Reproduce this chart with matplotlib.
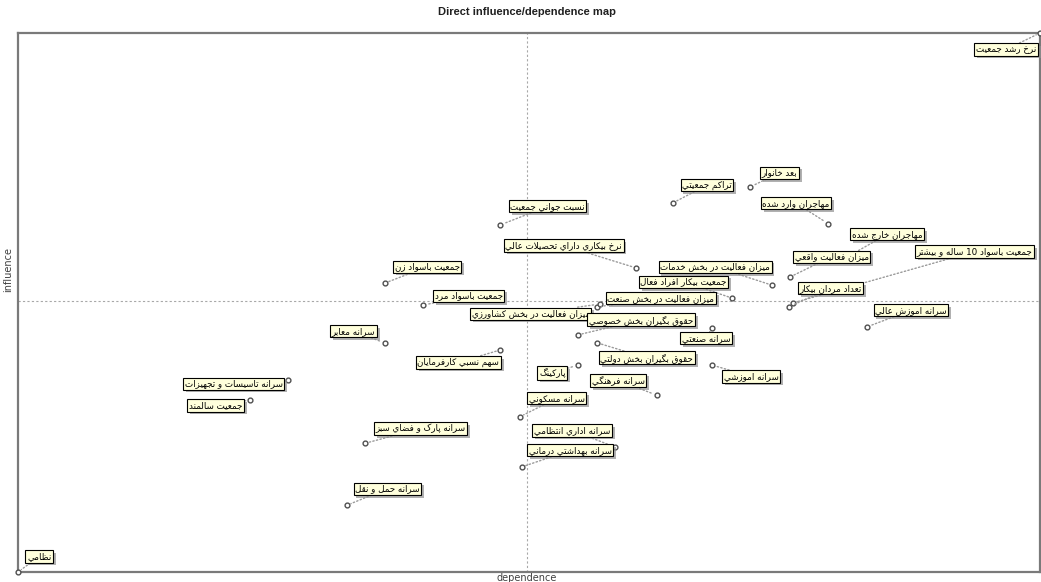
import re
import numpy as np
import matplotlib
matplotlib.use('Agg')
import matplotlib.pyplot as plt
import matplotlib.patheffects as pe

# ---- Arabic/Persian shaping (matplotlib does not shape RTL text) ----
FORMS = {
    'ا': ('\uFE8D', '\uFE8E'), 'آ': ('\uFE81', '\uFE82'),
    'ب': ('\uFE8F', '\uFE90', '\uFE91', '\uFE92'),
    'ت': ('\uFE95', '\uFE96', '\uFE97', '\uFE98'),
    'ث': ('\uFE99', '\uFE9A', '\uFE9B', '\uFE9C'),
    'ج': ('\uFE9D', '\uFE9E', '\uFE9F', '\uFEA0'),
    'ح': ('\uFEA1', '\uFEA2', '\uFEA3', '\uFEA4'),
    'خ': ('\uFEA5', '\uFEA6', '\uFEA7', '\uFEA8'),
    'د': ('\uFEA9', '\uFEAA'), 'ذ': ('\uFEAB', '\uFEAC'),
    'ر': ('\uFEAD', '\uFEAE'), 'ز': ('\uFEAF', '\uFEB0'),
    'س': ('\uFEB1', '\uFEB2', '\uFEB3', '\uFEB4'),
    'ش': ('\uFEB5', '\uFEB6', '\uFEB7', '\uFEB8'),
    'ص': ('\uFEB9', '\uFEBA', '\uFEBB', '\uFEBC'),
    'ض': ('\uFEBD', '\uFEBE', '\uFEBF', '\uFEC0'),
    'ط': ('\uFEC1', '\uFEC2', '\uFEC3', '\uFEC4'),
    'ظ': ('\uFEC5', '\uFEC6', '\uFEC7', '\uFEC8'),
    'ع': ('\uFEC9', '\uFECA', '\uFECB', '\uFECC'),
    'غ': ('\uFECD', '\uFECE', '\uFECF', '\uFED0'),
    'ف': ('\uFED1', '\uFED2', '\uFED3', '\uFED4'),
    'ق': ('\uFED5', '\uFED6', '\uFED7', '\uFED8'),
    'ك': ('\uFED9', '\uFEDA', '\uFEDB', '\uFEDC'),
    'ل': ('\uFEDD', '\uFEDE', '\uFEDF', '\uFEE0'),
    'م': ('\uFEE1', '\uFEE2', '\uFEE3', '\uFEE4'),
    'ن': ('\uFEE5', '\uFEE6', '\uFEE7', '\uFEE8'),
    'ه': ('\uFEE9', '\uFEEA', '\uFEEB', '\uFEEC'),
    'و': ('\uFEED', '\uFEEE'),
    'ي': ('\uFEF1', '\uFEF2', '\uFEF3', '\uFEF4'),
    'پ': ('\uFB56', '\uFB57', '\uFB58', '\uFB59'),
    'چ': ('\uFB7A', '\uFB7B', '\uFB7C', '\uFB7D'),
    'ژ': ('\uFB8A', '\uFB8B'),
    'ک': ('\uFB8E', '\uFB8F', '\uFB90', '\uFB91'),
    'گ': ('\uFB92', '\uFB93', '\uFB94', '\uFB95'),
}
LAMALEF = {'ا': ('\uFEFB', '\uFEFC'), 'آ': ('\uFEF5', '\uFEF6')}


def dual(c):
    return c in FORMS and len(FORMS[c]) == 4


def shape(s):
    res = []
    i, n = 0, len(s)
    while i < n:
        c = s[i]
        if c not in FORMS:
            res.append(c)
            i += 1
            continue
        link_prev = i > 0 and dual(s[i - 1])
        if c == 'ل' and i + 1 < n and s[i + 1] in LAMALEF:
            lig = LAMALEF[s[i + 1]]
            res.append(lig[1] if link_prev else lig[0])
            i += 2
            continue
        link_next = dual(c) and i + 1 < n and s[i + 1] in FORMS
        f = FORMS[c]
        if link_prev and link_next:
            res.append(f[3])
        elif link_prev:
            res.append(f[1])
        elif link_next:
            res.append(f[2])
        else:
            res.append(f[0])
        i += 1
    vis = ''.join(res)[::-1]
    return re.sub(r'[0-9]+', lambda m: m.group(0)[::-1], vis)


# ---- data ----
variables = [
    'نرخ رشد جمعيت', 'بعد خانوار', 'تراکم جمعيتي', 'مهاجران وارد شده',
    'نسبت جواني جمعيت', 'نرخ بيکاري داراي تحصيلات عالي', 'مهاجران خارج شده',
    'ميزان فعاليت واقعي', 'جمعيت باسواد 10 ساله و بيشتر', 'تعداد مردان بيکار',
    'سرانه اموزش عالي', 'ميزان فعاليت در بخش خدمات', 'جمعيت بيکار افراد فعال',
    'ميزان فعاليت در بخش صنعت', 'ميزان فعاليت در بخش کشاورزي',
    'حقوق بگيران بخش خصوصي', 'سرانه صنعتي', 'جمعيت باسواد زن',
    'جمعيت باسواد مرد', 'سرانه معابر', 'سهم نسبي کارفرمايان',
    'سرانه تاسيسات و تجهيزات', 'جمعيت سالمند', 'حقوق بگيران بخش دولتي',
    'پارکينگ', 'سرانه فرهنگي', 'سرانه اموزشي', 'سرانه مسکوني',
    'سرانه اداري انتظامي', 'سرانه بهداشتي درماني', 'سرانه پارک و فضاي سبز',
    'سرانه حمل و نقل', 'نظامي',
]
dependence = [100.0, 71.6, 64.1, 79.3, 47.2, 60.5, 81.0, 75.5, 75.8, 75.4,
              83.1, 73.8, 69.9, 56.7, 56.9, 54.8, 67.9, 35.9, 39.6, 35.9,
              47.2, 26.4, 22.7, 56.7, 54.8, 62.5, 67.9, 49.1, 58.4, 49.3,
              34.0, 32.2, 0.0]
influence = [100.0, 71.4, 68.5, 64.6, 64.4, 56.4, 58.3, 54.7, 49.9, 49.2,
             45.5, 53.2, 50.8, 49.2, 49.7, 44.0, 45.3, 53.6, 49.5, 42.5,
             41.2, 35.6, 31.9, 42.5, 38.4, 32.8, 38.4, 28.8, 23.2, 19.5,
             23.9, 12.4, 0.0]
dep_mean = 49.8
inf_mean = 50.3

# label offsets (pixels) from each point
offsets = [(-64, -21), (12, 10), (9, 13), (-66, 16), (10, 14), (-131, 18),
           (6, 19), (5, 16), (124, 47), (11, 14), (8, 12), (-112, 14),
           (-92, 12), (10, 4), (-128, -14), (11, 10), (-30, -15), (10, 12),
           (12, 5), (-53, 7), (-83, -17), (-103, -8), (-61, -10), (3, -20),
           (-39, -13), (-65, 10), (12, -16), (9, 14), (-81, 12), (7, 12),
           (10, 10), (8, 12), (9, 11)]

W, H = 1041, 582
fig = plt.figure(figsize=(W / 100, H / 100), dpi=100)
ax = fig.add_axes([18 / W, 1 - 572 / H, (1040 - 18) / W, (572 - 33) / H])
ax.set_xlim(0, 100)
ax.set_ylim(0, 100)
ax.set_xticks([])
ax.set_yticks([])
for s in ax.spines.values():
    s.set_color('#7a7a7a')
    s.set_linewidth(1.6)

ax.axvline(dep_mean, color='#a8a8a8', lw=0.8, ls=(0, (2, 2)))
ax.axhline(inf_mean, color='#a8a8a8', lw=0.8, ls=(0, (2, 2)))

ax.scatter(dependence, influence, s=12, facecolor='white', edgecolor='#505050',
           linewidth=1.0, zorder=3, clip_on=False)

for name, x, y, off in zip(variables, dependence, influence, offsets):
    t = ax.annotate(shape(name), (x, y), xytext=off, textcoords='offset pixels',
                    ha='left', va='bottom', fontsize=6.3, color='black',
                    family='DejaVu Sans', zorder=4,
                    bbox=dict(boxstyle='square,pad=0.18', fc='#ffffdc',
                              ec='black', lw=0.8),
                    arrowprops=dict(arrowstyle='-', color='#9a9a9a', lw=1.0,
                                    ls=':', shrinkA=0, shrinkB=3))
    t.get_bbox_patch().set_path_effects([
        pe.SimplePatchShadow(offset=(2, -2), shadow_rgbFace='#909090', alpha=0.7),
        pe.Normal()])

fig.text(527 / W, 1 - 12 / H, 'Direct influence/dependence map', ha='center',
         va='center', fontsize=8, fontweight='bold',
         family=['Liberation Sans', 'DejaVu Sans'], color='#202020')
fig.text(527 / W, 1 - 578 / H, 'dependence', ha='center', va='center',
         fontsize=7, color='#404040')
fig.text(8 / W, 1 - 270 / H, 'influence', ha='center', va='center',
         fontsize=7, color='#404040', rotation=90)

fig.savefig('out.png', dpi=100)
